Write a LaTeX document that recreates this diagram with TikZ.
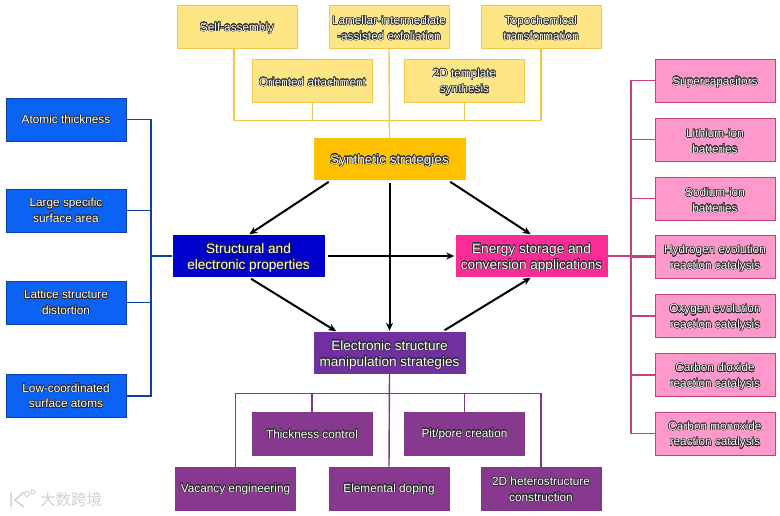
\documentclass[tikz,border=0pt]{standalone}
\usepackage{fontspec}
\setmainfont{Liberation Sans}
\newfontfamily\cjkfont{Noto Sans CJK SC}
\usepackage[copies]{contour}
\usetikzlibrary{arrows.meta}
\contourlength{0.5pt}
\newcommand{\lbldrop}{-1.8pt}
\newcommand{\lbl}[1]{\raisebox{\lbldrop}[\height][\depth]{\contour{black!85}{\textcolor{white}{#1}}}}
\tikzset{
    smallbox/.style={draw=#1, line width=1pt, minimum width=120pt, minimum height=43pt, inner sep=0pt, align=center, font=\fontsize{11.8}{15.5}\selectfont},
    bigbox/.style={draw=none, minimum width=152pt, minimum height=42pt, inner sep=0pt, align=center, font=\fontsize{13.6}{16}\selectfont},
    yellowbox/.style={smallbox=yellowline, fill=yellowfill},
    bluebox/.style={smallbox=blueline, fill=bluefill, execute at begin node={\renewcommand{\lbldrop}{0pt}}},
    pinkbox/.style={smallbox=pinkline, fill=pinkfill},
    purplebox/.style={smallbox=purpleline, fill=purplefill, execute at begin node={\renewcommand{\lbldrop}{-0.8pt}}},
    flow/.style={line width=2pt, black, -{Stealth[length=8pt,width=7pt,inset=2.5pt]}, shorten >=1pt, shorten <=3pt},
    bus/.style={line width=1.4pt},
}
\definecolor{yellowfill}{HTML}{FFE685}
\definecolor{yellowline}{HTML}{F2C84B}
\definecolor{bluefill}{HTML}{0B63F6}
\definecolor{blueline}{HTML}{0A3FA8}
\definecolor{pinkfill}{HTML}{FF99CC}
\definecolor{pinkline}{HTML}{C4407F}
\definecolor{purplefill}{HTML}{86398F}
\definecolor{purpleline}{HTML}{7A3A86}
\begin{document}
\begin{tikzpicture}[x=1pt, y=-1pt]
    \useasboundingbox (0,0) rectangle (780,515);

    % Верхний ряд: синтез
    \node[yellowbox] (self) at (237,26.5) {\lbl{Self-assembly}};
    \node[yellowbox] (lamellar) at (389,26.5) {\lbl{Lamellar-intermediate}\\\lbl{-assisted exfoliation}};
    \node[yellowbox] (topo) at (541,26.5) {\lbl{Topochemical}\\\lbl{transformation}};
    \node[yellowbox] (oriented) at (312.5,80.5) {\lbl{Oriented attachment}};
    \node[yellowbox] (template) at (464.5,80.5) {\lbl{2D template}\\\lbl{synthesis}};

    % Четыре центральных блока
    \node[bigbox, fill={rgb,255:red,255;green,192;blue,0}] (synth) at (389.5,159) {\lbl{Synthetic strategies}};
    \node[bigbox, fill={rgb,255:red,0;green,0;blue,204}] (struct) at (248.5,256) {\lbl{Structural and}\\\lbl{electronic properties}};
    \node[bigbox, fill={rgb,255:red,250;green,45;blue,150}] (energy) at (531.5,256) {\lbl{Energy storage and}\\\lbl{conversion applications}};
    \node[bigbox, fill={rgb,255:red,112;green,48;blue,160}] (elec) at (389.5,353) {\lbl{Electronic structure}\\\lbl{manipulation strategies}};

    % Левая колонка
    \node[bluebox] (atomic) at (66,119.5) {\lbl{Atomic thickness}};
    \node[bluebox] (large) at (66,210.5) {\lbl{Large specific}\\\lbl{surface area}};
    \node[bluebox] (lattice) at (66,302.5) {\lbl{Lattice structure}\\\lbl{distortion}};
    \node[bluebox] (low) at (66,396) {\lbl{Low-coordinated}\\\lbl{surface atoms}};

    % Правая колонка
    \node[pinkbox] (super) at (715,80.5) {\lbl{Supercapacitors}};
    \node[pinkbox] (lithium) at (715,139.5) {\lbl{Lithium-ion}\\\lbl{batteries}};
    \node[pinkbox] (sodium) at (715,198.5) {\lbl{Sodium-ion}\\\lbl{batteries}};
    \node[pinkbox] (hydrogen) at (715,257) {\lbl{Hydrogen evolution}\\\lbl{reaction catalysis}};
    \node[pinkbox] (oxygen) at (715,316) {\lbl{Oxygen evolution}\\\lbl{reaction catalysis}};
    \node[pinkbox] (dioxide) at (715,375) {\lbl{Carbon dioxide}\\\lbl{reaction catalysis}};
    \node[pinkbox] (monoxide) at (715,433.5) {\lbl{Carbon monoxide}\\\lbl{reaction catalysis}};

    % Нижний ряд
    \node[purplebox] (thickness) at (312,433.5) {\lbl{Thickness control}};
    \node[purplebox] (pit) at (464.5,433.5) {\lbl{Pit/pore creation}};
    \node[purplebox] (vacancy) at (235.5,488.5) {\lbl{Vacancy engineering}};
    \node[purplebox] (doping) at (389,488.5) {\lbl{Elemental doping}};
    \node[purplebox] (hetero) at (541,488.5) {\lbl{2D heterostructure}\\\lbl{construction}};

    % Шины
    \coordinate (ybus) at (389,120.5);
    \coordinate (bbus) at (151,256);
    \coordinate (pbus) at (631,256);
    \coordinate (mbus) at (389,393.5);

    \draw[yellowline, bus] ([xshift=-3pt]self.south) |- (ybus) -| (topo.south);
    \draw[yellowline, bus] (oriented.south) -- (oriented.south |- ybus);
    \draw[yellowline, bus] (template.south) -- (template.south |- ybus);
    \draw[yellowline, bus] (lamellar.south) -- (synth.north);

    \draw[blueline, bus] (atomic.east) -| (bbus);
    \draw[blueline, bus] (low.east) -| (bbus);
    \draw[blueline, bus] (large.east) -- (large.east -| bbus);
    \draw[blueline, bus] (lattice.east) -- (lattice.east -| bbus);
    \draw[blueline, bus] (bbus) -- (struct.west);

    \draw[pinkline, bus] (super.west) -| (pbus);
    \draw[pinkline, bus] (monoxide.west) -| (pbus);
    \foreach \n in {lithium,sodium,hydrogen,oxygen,dioxide}
        \draw[pinkline, bus] (\n.west) -- (\n.west -| pbus);
    \draw[pinkline, bus] (energy.east) -- (energy.east -| hydrogen.west);

    \draw[purpleline, bus] (vacancy.north) |- (mbus) -| (hetero.north);
    \draw[purpleline, bus] (thickness.north) -- (thickness.north |- mbus);
    \draw[purpleline, bus] (pit.north) -- (pit.north |- mbus);
    \draw[purpleline, bus] (elec.south) -- (doping.north);

    % Стрелки
    \draw[flow] (synth.200) -- (struct.north);
    \draw[flow] (synth.340) -- (energy.north);
    \draw[flow] (synth.south) -- (elec.north);
    \draw[flow] (struct.east) -- (energy.west);
    \draw[flow] (struct.south) -- (elec.158);
    \draw[flow] (elec.22) -- (energy.south);

    % Водяной знак
    \node[text=black!18, font=\cjkfont\fontsize{15.5}{15.5}\selectfont, inner sep=0pt] (mark) at (71,500) {大数跨境};
    \draw[black!18, line width=1.5pt] (11,492) -- (11,507) (24,492) -- (15,500) -- (24,507);
    \draw[black!18, line width=1pt] (27,494) circle (2.5) (33,492) circle (2);
\end{tikzpicture}
\end{document}
